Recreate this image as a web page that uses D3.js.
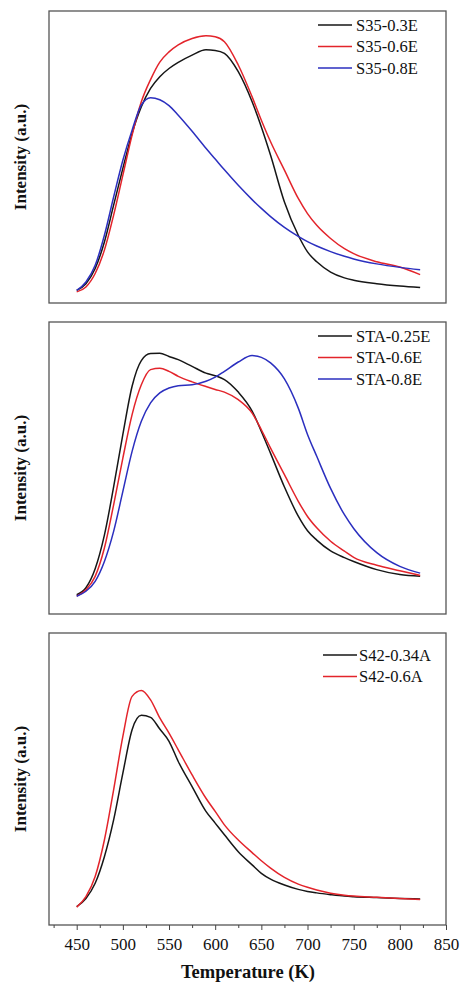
<!DOCTYPE html>
<meta charset="utf-8">
<style>
body { margin: 0; background: #fff; }
text { font-family: "Liberation Serif", "Times New Roman", serif; fill: #111; }
.frame { fill: none; stroke: #555; stroke-width: 1.3px; }
.curve { fill: none; stroke-width: 1.5px; stroke-linejoin: round; }
.ylab { font-weight: bold; font-size: 17px; }
.xlab { font-weight: bold; font-size: 18.5px; }
.tick-label { font-size: 17px; }
.legend text { font-size: 16.5px; }
</style>
<svg></svg>
<script src="https://cdn.jsdelivr.net/npm/d3@7"></script>
<script>

var width = 460,
    height = 982;

// temperatures (K) shared by every curve
var temps = [450, 460, 470, 480, 490, 500, 510, 520, 530, 540, 550, 560, 575, 590, 600,
             610, 625, 640, 650, 660, 675, 690, 700, 710, 725, 740, 750, 775, 800, 822];

// panel 1
var s35_03E = [4.3, 6.6, 11.8, 20.9, 33.5, 46.1, 58.1, 67.2, 73.5, 77.5, 80.3, 82.4, 84.9, 86.7, 86.5,
               85.5, 79.2, 68.9, 60.3, 50.6, 34.6, 23.2, 17.5, 14.1, 10.6, 8.6, 7.8, 6.6, 5.8, 5.3];
var s35_06E = [3.8, 5.5, 10.1, 18.1, 30.1, 43.8, 57.5, 68.9, 76.5, 82.5, 86.0, 88.4, 90.6, 91.5, 91.2,
               89.5, 81.5, 70.6, 62.6, 55.2, 45.5, 35.8, 30.6, 26.6, 22.1, 18.6, 16.9, 14.1, 12.3, 9.7];
var s35_08E = [4.3, 7.2, 12.9, 23.2, 36.3, 48.9, 59.2, 67.8, 70.3, 69.6, 67.6, 64.3, 58.8, 53.0, 49.3,
               45.6, 40.3, 35.4, 32.4, 29.6, 25.9, 22.8, 21.0, 19.5, 17.6, 16.0, 15.1, 13.4, 12.2, 11.4];

// panel 2
var sta_025E = [6.6, 9.0, 15.5, 27.0, 43.5, 61.5, 78.0, 86.8, 89.2, 89.3, 88.2, 87.1, 84.8, 82.5, 81.6,
                80.3, 76.0, 69.5, 62.5, 55.0, 43.5, 33.5, 28.5, 25.3, 21.6, 19.3, 18.0, 15.2, 13.5, 12.9];
var sta_06E = [6.1, 8.3, 12.9, 22.6, 37.4, 53.4, 68.3, 78.5, 83.7, 84.2, 83.1, 81.4, 79.5, 77.9, 76.9,
               76.0, 73.4, 68.8, 63.1, 56.8, 47.7, 38.6, 33.4, 29.5, 24.9, 21.5, 19.4, 16.7, 14.8, 13.2];
var sta_08E = [6.1, 7.8, 11.2, 18.0, 28.3, 42.0, 55.7, 66.0, 72.3, 75.7, 77.4, 78.2, 78.5, 79.7, 81.1,
               83.1, 86.3, 88.5, 87.9, 86.0, 80.5, 70.5, 61.5, 54.0, 43.0, 34.0, 29.3, 21.0, 16.3, 14.0];

// panel 3
var s42_034A = [6.3, 9.1, 14.3, 23.4, 36.0, 52.0, 66.9, 71.8, 71.1, 67.1, 62.9, 56.0, 47.4, 38.9, 34.9,
                30.9, 25.1, 20.6, 17.7, 15.7, 13.7, 12.2, 11.5, 11.0, 10.4, 9.9, 9.7, 9.4, 9.1, 8.9];
var s42_06A = [6.1, 9.7, 16.6, 29.1, 46.3, 64.6, 78.3, 80.3, 77.1, 70.9, 65.7, 60.0, 51.4, 43.4, 38.9,
               34.3, 29.1, 24.8, 22.0, 19.5, 16.3, 14.0, 12.9, 12.0, 10.9, 10.2, 9.9, 9.5, 9.1, 8.7];

var xTicks = [450, 500, 550, 600, 650, 700, 750, 800, 850];

var panels = [
  { top: 11,  bottom: 303, series: [
      { name: "S35-0.3E", color: "#161616", values: s35_03E },
      { name: "S35-0.6E", color: "#e3242b", values: s35_06E },
      { name: "S35-0.8E", color: "#2b2fbf", values: s35_08E } ],
    legX: 318, legY: 25, legTextX: 356 },
  { top: 322, bottom: 614, series: [
      { name: "STA-0.25E", color: "#161616", values: sta_025E },
      { name: "STA-0.6E", color: "#e3242b", values: sta_06E },
      { name: "STA-0.8E", color: "#2b2fbf", values: sta_08E } ],
    legX: 318, legY: 336, legTextX: 356 },
  { top: 633, bottom: 925, series: [
      { name: "S42-0.34A", color: "#161616", values: s42_034A },
      { name: "S42-0.6A", color: "#e3242b", values: s42_06A } ],
    legX: 323, legY: 655, legTextX: 359 }
];

var svg = d3.select("svg")
    .attr("width", width)
    .attr("height", height);

var x = d3.scaleLinear()
    .domain([420, 850])
    .range([49, 446]);

panels.forEach(function(p) {
  var y = d3.scaleLinear()
      .domain([0, 100])
      .range([p.bottom, p.top]);

  var g = svg.append("g");

  var line = d3.line()
      .x(function(d) { return x(d[0]); })
      .y(function(d) { return y(d[1]); })
      .curve(d3.curveMonotoneX);

  g.selectAll("path.curve")
    .data(p.series)
    .enter().append("path")
      .attr("class", "curve")
      .attr("stroke", function(s) { return s.color; })
      .attr("d", function(s) {
        return line(temps.map(function(t, i) { return [t, s.values[i]]; }));
      });

  g.append("rect")
      .attr("class", "frame")
      .attr("x", x.range()[0])
      .attr("y", p.top)
      .attr("width", x.range()[1] - x.range()[0])
      .attr("height", p.bottom - p.top);

  g.append("text")
      .attr("class", "ylab")
      .attr("text-anchor", "middle")
      .attr("transform", "translate(26," + ((p.top + p.bottom) / 2) + ") rotate(-90)")
      .text("Intensity (a.u.)");

  var leg = g.append("g")
      .attr("class", "legend")
    .selectAll("g")
    .data(p.series)
    .enter().append("g")
      .attr("transform", function(s, i) { return "translate(0," + (p.legY + i * 21.5) + ")"; });

  leg.append("line")
      .attr("x1", p.legX)
      .attr("x2", p.legX + 34)
      .attr("stroke", function(s) { return s.color; })
      .attr("stroke-width", 1.5);

  leg.append("text")
      .attr("x", p.legTextX)
      .attr("dy", "0.35em")
      .text(function(s) { return s.name; });
});

// bottom x axis (only on the last panel)
var last = panels[panels.length - 1];
var axis = svg.append("g")
    .attr("transform", "translate(0," + last.bottom + ")")
    .call(d3.axisBottom(x).tickValues(xTicks).tickSize(5).tickFormat(d3.format("d")));

svg.append("g")
    .attr("transform", "translate(0," + last.bottom + ")")
    .call(d3.axisBottom(x).tickValues(d3.range(425, 850, 50)).tickSize(3).tickFormat(""))
    .select(".domain").remove();

axis.select(".domain").remove();
svg.selectAll(".tick line").attr("stroke", "#444");
axis.selectAll(".tick text")
    .attr("class", "tick-label")
    .attr("font-family", null)
    .attr("font-size", null)
    .attr("dy", "0.9em")
    .attr("y", 10);

svg.append("text")
    .attr("class", "xlab")
    .attr("text-anchor", "middle")
    .attr("x", 248)
    .attr("y", 978)
    .text("Temperature (K)");

</script>
